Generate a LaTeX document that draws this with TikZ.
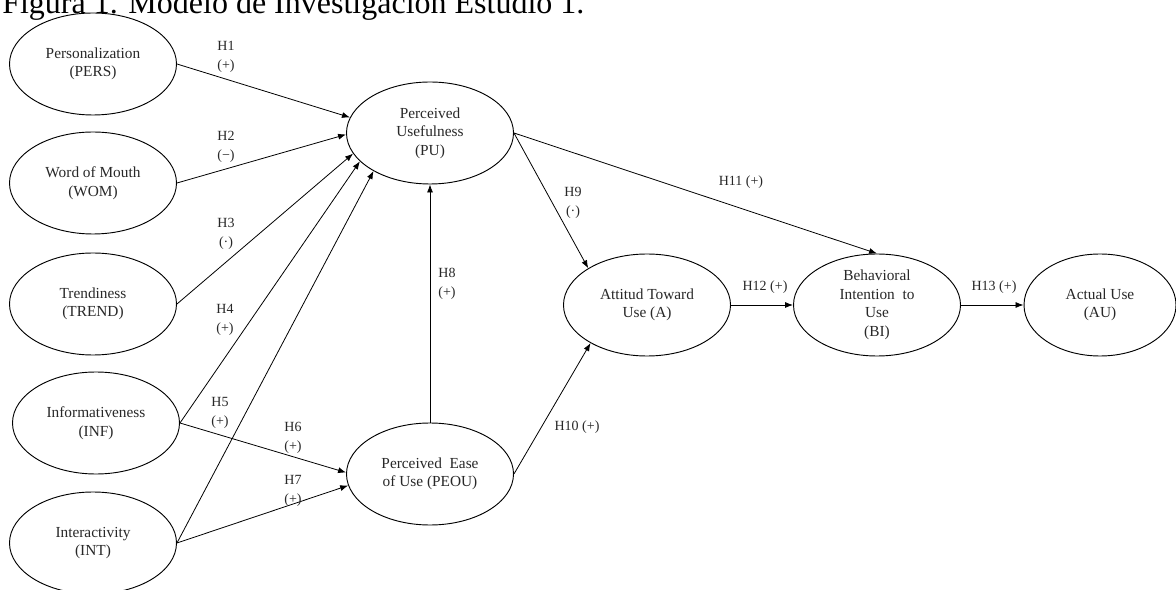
\documentclass[tikz,border=0pt]{standalone}
\usepackage{fontspec}
\setmainfont{Liberation Serif}
\usetikzlibrary{shapes.geometric,arrows.meta}
\tikzset{
  construct/.style={draw=drawColor,line width=0.7pt,ellipse,minimum width=125.25pt,minimum height=76.5pt,
    inner sep=0pt,align=center,text=textColor,font=\fontsize{11.5}{13.9}\selectfont},
  hyp/.style={text=textColor,align=center,inner sep=0pt,outer sep=0pt,font=\fontsize{10.5}{14.25}\selectfont},
  link/.style={draw=drawColor,line width=0.6pt,line join=round,-{Latex[length=6pt,width=4.5pt]}}
}
\begin{document}
\begin{tikzpicture}[x=0.75pt,y=0.75pt]
\definecolor{fillColor}{RGB}{255,255,255}
\definecolor{drawColor}{RGB}{0,0,0}
\definecolor{textColor}{RGB}{40,40,40}
\path[use as bounding box,fill=fillColor] (0,0) rectangle (1176,589);

\node[text=black,anchor=base west,inner sep=0pt,font=\fontsize{24}{28}\selectfont] (title) at (2,575) {Figura 1. Modelo de Investigación Estudio 1.};

\node[construct] (PERS) at (93,525) {Personalization\\(PERS)};
\node[construct] (WOM) at (93,406) {Word of Mouth\\(WOM)};
\node[construct] (TREND) at (93,285) {Trendiness\\(TREND)};
\node[construct] (INF) at (96,166) {Informativeness\\(INF)};
\node[construct] (INT) at (93,46) {Interactivity\\(INT)};

\node[construct] (PU) at (430,456) {Perceived\\Usefulness\\(PU)};
\node[construct] (PEOU) at (430,115) {Perceived~ Ease\\of Use (PEOU)};
\node[construct] (A) at (647,284) {Attitud Toward\\Use (A)};
\node[construct] (BI) at (877,284) {Behavioral\\Intention~ to\\Use\\(BI)};
\node[construct,minimum width=114pt] (AU) at (1100,284) {Actual Use\\(AU)};

\draw[link] (PERS.east) -- (PU.169);
\draw[link] (WOM.east) -- (PU.181);
\draw[link] (TREND.east) -- (PU.195);
\draw[link] (INF.east) -- (PU.202);
\draw[link] (INT.east) -- (PU.214);
\draw[link] (INF.east) -- (PEOU.179);
\draw[link] (INT.east) -- (PEOU.188);
\draw[link] (PEOU.north) -- (PU.south);
\draw[link] (PU.east) -- (A.148);
\draw[link] (PU.east) -- (BI.north);
\draw[link] (PEOU.east) -- (A.214);
\draw[link] (A.east) -- (BI.west);
\draw[link] (BI.east) -- (AU.west);

\node[hyp] (h1) at (226,532) {H1\\(+)};
\node[hyp] (h2) at (226,442) {H2\\(−)};
\node[hyp] (h3) at (226,355) {H3\\(·)};
\node[hyp] (h4) at (225,269) {H4\\(+)};
\node[hyp] (h5) at (220,176) {H5\\(+)};
\node[hyp] (h6) at (293,151) {H6\\(+)};
\node[hyp] (h7) at (293,98) {H7\\(+)};
\node[hyp] (h8) at (447,305) {H8\\(+)};
\node[hyp] (h9) at (573,386) {H9\\(·)};
\node[hyp] (h10) at (577,162) {H10 (+)};
\node[hyp] (h11) at (741,407) {H11 (+)};
\node[hyp] (h12) at (765,302) {H12 (+)};
\node[hyp] (h13) at (994,302) {H13 (+)};
\end{tikzpicture}
\end{document}
